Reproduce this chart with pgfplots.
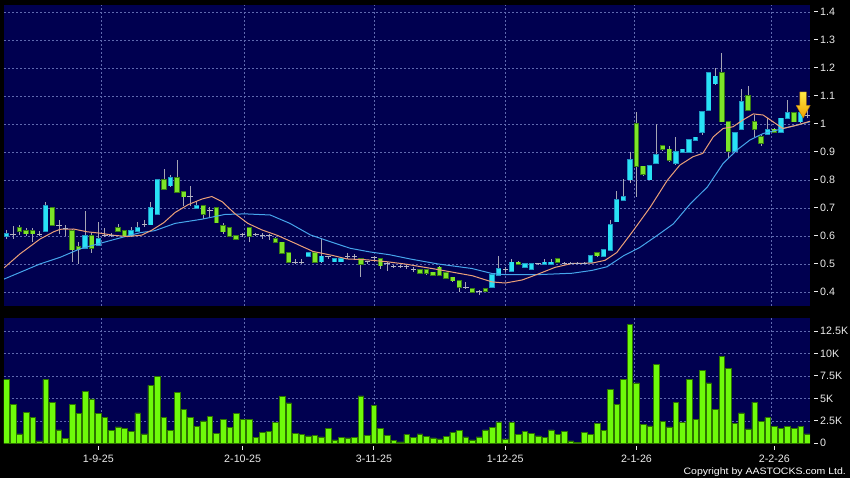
\documentclass[border=0pt]{standalone}
\usepackage{fontspec}
\setmainfont{Liberation Sans}
\usepackage{graphicx}
\usepackage{pgfplots}
\usepackage{pgfplotstable}
\pgfplotsset{compat=1.18}

\definecolor{navybg}{RGB}{0,0,80}
\definecolor{gridc}{RGB}{95,105,175}
\definecolor{upc}{RGB}{40,225,245}
\definecolor{upb}{RGB}{30,150,195}
\definecolor{dnc}{RGB}{125,228,40}
\definecolor{dnb}{RGB}{55,125,20}
\definecolor{wickc}{RGB}{165,165,180}
\definecolor{dojic}{RGB}{180,180,195}
\definecolor{volc}{RGB}{110,250,10}
\definecolor{volb}{RGB}{45,115,0}
\definecolor{maor}{RGB}{235,160,120}
\definecolor{mabl}{RGB}{70,165,235}
\definecolor{labc}{RGB}{235,235,235}
\definecolor{arrowtop}{RGB}{255,235,70}
\definecolor{arrowbot}{RGB}{240,160,0}
\definecolor{arrowedge}{RGB}{190,120,0}

\newcommand{\yt}[1]{\rule[3.4pt]{3.5pt}{0.9pt}\hspace{2.5pt}#1}
\newcommand{\xt}[1]{\rule{0.9pt}{3.5pt}\\[0.2pt]#1}

\pgfdeclareplotmark{nothing}{}
\pgfdeclareplotmark{dnarrow}{%
  \shadedraw[top color=arrowtop, bottom color=arrowbot, draw=arrowedge, line width=0.4pt]
    (-3.3pt,13pt) -- (3.3pt,13pt) -- (3.3pt,-0.5pt) -- (7pt,-0.5pt) -- (0pt,-13pt)
    -- (-7pt,-0.5pt) -- (-3.3pt,-0.5pt) -- cycle;
}

% up candles (cyan): index open high low close
\pgfplotstableread{
i o h l c
0 0.600 0.620 0.590 0.607
6 0.618 0.720 0.613 0.708
12 0.557 0.690 0.553 0.601
14 0.568 0.651 0.565 0.589
19 0.601 0.631 0.598 0.618
20 0.618 0.650 0.613 0.629
22 0.640 0.720 0.640 0.700
23 0.678 0.800 0.675 0.800
25 0.780 0.818 0.775 0.808
29 0.700 0.726 0.695 0.708
46 0.527 0.540 0.525 0.539
48 0.508 0.592 0.504 0.527
50 0.508 0.520 0.506 0.518
51 0.508 0.520 0.506 0.518
74 0.417 0.461 0.415 0.461
75 0.461 0.530 0.460 0.482
77 0.474 0.518 0.474 0.506
79 0.488 0.500 0.486 0.500
80 0.482 0.500 0.480 0.500
82 0.500 0.518 0.498 0.506
83 0.500 0.518 0.498 0.506
89 0.506 0.530 0.505 0.530
91 0.527 0.550 0.525 0.550
92 0.550 0.658 0.550 0.641
93 0.651 0.760 0.651 0.729
94 0.729 0.805 0.729 0.741
95 0.801 0.900 0.790 0.871
98 0.801 0.851 0.800 0.851
99 0.859 1.000 0.859 0.891
102 0.859 0.952 0.853 0.900
103 0.900 0.910 0.898 0.909
104 0.900 0.943 0.898 0.943
105 0.943 0.955 0.940 0.952
106 0.972 1.044 0.960 1.044
107 1.050 1.182 1.045 1.182
108 1.144 1.200 1.140 1.170
111 0.904 0.969 0.900 0.969
112 0.981 1.125 0.981 1.080
116 0.964 1.020 0.964 0.978
118 0.972 1.020 0.972 1.020
119 1.020 1.084 1.020 1.041
121 1.008 1.041 1.005 1.041
}\tblup

% down candles (green)
\pgfplotstableread{
i o h l c
2 0.629 0.638 0.605 0.618
3 0.618 0.628 0.601 0.608
4 0.618 0.629 0.577 0.608
7 0.700 0.700 0.635 0.639
10 0.618 0.625 0.506 0.551
11 0.560 0.577 0.500 0.551
13 0.601 0.611 0.540 0.557
17 0.629 0.644 0.613 0.618
18 0.618 0.620 0.598 0.601
24 0.800 0.840 0.768 0.768
26 0.808 0.870 0.756 0.756
27 0.757 0.757 0.708 0.740
30 0.708 0.708 0.660 0.678
32 0.700 0.700 0.648 0.648
33 0.637 0.645 0.607 0.616
34 0.628 0.628 0.598 0.600
35 0.600 0.600 0.586 0.589
37 0.628 0.628 0.577 0.600
41 0.589 0.595 0.575 0.577
42 0.577 0.580 0.535 0.539
43 0.539 0.540 0.504 0.506
47 0.539 0.540 0.504 0.506
54 0.518 0.520 0.452 0.500
57 0.518 0.518 0.482 0.494
63 0.479 0.480 0.465 0.468
64 0.479 0.482 0.462 0.468
65 0.470 0.472 0.458 0.461
66 0.488 0.494 0.460 0.461
67 0.468 0.470 0.447 0.450
68 0.452 0.455 0.437 0.440
69 0.440 0.440 0.400 0.417
71 0.410 0.410 0.397 0.399
73 0.410 0.413 0.400 0.402
78 0.506 0.510 0.500 0.500
84 0.518 0.520 0.505 0.506
90 0.539 0.541 0.525 0.530
96 1.000 1.044 0.739 0.849
97 0.849 0.849 0.816 0.820
100 0.921 0.925 0.905 0.909
101 0.909 0.921 0.865 0.871
109 1.182 1.252 1.008 1.008
110 1.008 1.008 0.880 0.904
113 1.100 1.134 1.050 1.050
114 1.008 1.032 0.955 0.981
115 0.955 0.961 0.921 0.931
117 0.981 0.985 0.968 0.972
120 1.041 1.041 1.008 1.008
}\tbldn

% doji candles: index value high low
\pgfplotstableread{
i v h l
1 0.607 0.635 0.589
5 0.607 0.618 0.601
8 0.639 0.658 0.607
9 0.625 0.639 0.601
15 0.603 0.629 0.595
16 0.603 0.612 0.595
21 0.640 0.656 0.631
28 0.740 0.780 0.708
31 0.690 0.705 0.665
36 0.605 0.612 0.598
38 0.605 0.610 0.600
39 0.601 0.612 0.590
40 0.601 0.608 0.585
44 0.506 0.518 0.500
45 0.506 0.518 0.500
49 0.527 0.530 0.518
52 0.527 0.540 0.518
53 0.527 0.535 0.518
55 0.508 0.512 0.500
56 0.524 0.530 0.506
58 0.500 0.506 0.476
59 0.490 0.495 0.485
60 0.490 0.495 0.485
61 0.490 0.497 0.482
62 0.482 0.488 0.470
70 0.417 0.435 0.410
72 0.400 0.406 0.390
76 0.482 0.488 0.470
81 0.500 0.503 0.497
85 0.503 0.506 0.500
86 0.503 0.506 0.500
87 0.503 0.506 0.500
88 0.503 0.506 0.500
122 1.030 1.050 1.020
}\tbldoji

% moving averages
\pgfplotstableread{
i v
-0.37 0.486
2.07 0.536
5.12 0.589
7.2 0.615
8.2 0.624
10.2 0.625
12.3 0.615
14.3 0.610
16.2 0.603
18.4 0.598
20.6 0.603
22.1 0.620
24.0 0.648
25.7 0.684
27.7 0.712
29.8 0.732
31.3 0.741
32.9 0.722
34.8 0.680
36.8 0.645
38.9 0.622
41.2 0.603
43.7 0.577
46.7 0.545
49.8 0.530
51.9 0.518
54.9 0.515
58.0 0.508
60.7 0.500
65.8 0.480
71.0 0.458
74.0 0.436
76.0 0.432
78.6 0.443
81.0 0.464
83.6 0.488
86.2 0.502
89.2 0.503
91.2 0.513
93.0 0.541
95.5 0.619
98.1 0.703
100.7 0.799
102.6 0.853
104.6 0.883
106.1 0.895
107.7 0.954
109.2 0.984
110.7 0.990
112.2 1.014
113.8 1.036
115.3 1.032
116.8 1.008
118.3 0.984
120.5 0.996
122.44 1.010
}\tblmaa

\pgfplotstableread{
i v
-0.37 0.446
2.07 0.470
5.1 0.500
8.2 0.524
11.2 0.554
14.3 0.574
17.3 0.593
20.4 0.612
22.6 0.619
25.7 0.645
29.8 0.660
33.3 0.677
36.4 0.679
40.2 0.675
43.2 0.645
46.3 0.604
49.3 0.580
52.4 0.556
55.4 0.543
58.4 0.533
61.5 0.518
65.8 0.500
70.9 0.484
74.0 0.466
76.0 0.462
81.0 0.462
86.2 0.467
89.2 0.477
91.5 0.490
94.0 0.529
96.5 0.559
99.1 0.601
101.6 0.643
104.2 0.715
106.8 0.775
109.2 0.859
111.3 0.907
113.3 0.943
115.3 0.966
117.4 0.978
119.4 0.990
122.44 1.008
}\tblmab

% volume in thousands
\pgfplotstableread{
i v
0 7.1
1 4.3
2 1.05
3 3.45
4 2.9
5 0.26
6 7.1
7 4.6
8 1.5
9 0.56
10 4.3
11 3.3
12 5.8
13 4.95
14 3.34
15 2.9
16 1.4
17 1.84
18 1.7
19 1.3
20 3.4
21 1.05
22 6.45
23 7.5
24 2.85
25 1.4
26 5.7
27 3.75
28 2.9
29 1.9
30 2.5
31 3.0
32 1.1
33 2.7
34 1.8
35 3.3
36 2.7
37 2.7
38 0.7
39 1.24
40 1.3
41 2.3
42 5.25
43 4.5
44 1.1
45 0.98
46 0.83
47 0.86
48 0.71
49 1.65
50 0.38
51 0.64
52 0.6
53 0.68
54 5.3
55 0.86
56 4.2
57 1.65
58 0.9
59 0.3
60 0.15
61 1.0
62 0.64
63 1.05
64 0.79
65 0.6
66 0.49
67 0.75
68 1.24
69 1.46
70 0.71
71 0.38
72 0.71
73 1.5
74 1.8
75 2.4
76 0.5
77 2.3
78 1.0
79 1.35
80 1.1
81 0.83
82 0.64
83 1.5
84 1.0
85 1.35
86 0.26
87 0.1
88 1.2
89 0.98
90 2.2
91 1.4
92 6.0
93 4.3
94 7.1
95 13.3
96 6.75
97 2.1
98 1.95
99 8.8
100 2.44
101 1.84
102 4.6
103 2.3
104 7.1
105 2.7
106 8.1
107 6.75
108 3.75
109 9.7
110 8.4
111 2.25
112 3.4
113 1.6
114 4.6
115 2.44
116 2.85
117 1.9
118 1.7
119 1.9
120 1.7
121 1.9
122 1.05
}\tblvol

\pgfplotsset{
  chartbase/.style={
    scale only axis, width=806pt,
    xmin=-0.366, xmax=122.44,
    axis background/.style={fill=navybg},
    axis line style={draw=none},
    major tick length=0pt,
    grid style={gridc, dash pattern=on 2pt off 2pt, line width=0.6pt},
    tick label style={font=\fontsize{10.7}{12.2}\selectfont, text=labc},
    yticklabel pos=right,
    yticklabel style={anchor=west, inner sep=0pt, xshift=4pt},
  },
  wick/.style={forget plot, only marks, mark=nothing,
    error bars/.cd, y dir=both, y explicit, error mark=none,
    error bar style={line width=0.8pt, color=wickc}},
  body/.style 2 args={forget plot, only marks, mark=nothing,
    error bars/.cd, y dir=both, y explicit, error mark=none,
    error bar style={line width=#1, color=#2}},
}

\begin{document}
\begin{tikzpicture}[x=1pt,y=1pt]
\fill[black] (0,0) rectangle (850,478);

% ---------- price panel ----------
\begin{axis}[chartbase,
  at={(4pt,172pt)}, anchor=south west, height=301pt,
  ymin=0.35, ymax=1.425,
  xtick={14.5,36.3,56.05,75.97,95.67,116.6}, xticklabel=\empty,
  ytick={0.4,0.5,0.6,0.7,0.8,0.9,1,1.1,1.2,1.3,1.4},
  yticklabels={\yt{0.4},\yt{0.5},\yt{0.6},\yt{0.7},\yt{0.8},\yt{0.9},\yt{1},\yt{1.1},\yt{1.2},\yt{1.3},\yt{1.4}},
  xmajorgrids, ymajorgrids,
]
% wicks
\addplot[wick] table[x=i, y expr={(\thisrow{h}+\thisrow{l})/2}, y error expr={(\thisrow{h}-\thisrow{l})/2}] {\tblup};
\addplot[wick] table[x=i, y expr={(\thisrow{h}+\thisrow{l})/2}, y error expr={(\thisrow{h}-\thisrow{l})/2}] {\tbldn};
\addplot[wick] table[x=i, y expr={(\thisrow{h}+\thisrow{l})/2}, y error expr={(\thisrow{h}-\thisrow{l})/2}] {\tbldoji};
% up bodies
\addplot[body={5.4pt}{upb}] table[x=i, y expr={(\thisrow{o}+\thisrow{c})/2}, y error expr={abs(\thisrow{c}-\thisrow{o})/2+0.0025}] {\tblup};
\addplot[body={3.8pt}{upc}] table[x=i, y expr={(\thisrow{o}+\thisrow{c})/2}, y error expr={abs(\thisrow{c}-\thisrow{o})/2}] {\tblup};
% down bodies
\addplot[body={5.4pt}{dnb}] table[x=i, y expr={(\thisrow{o}+\thisrow{c})/2}, y error expr={abs(\thisrow{c}-\thisrow{o})/2+0.0025}] {\tbldn};
\addplot[body={3.8pt}{dnc}] table[x=i, y expr={(\thisrow{o}+\thisrow{c})/2}, y error expr={abs(\thisrow{c}-\thisrow{o})/2}] {\tbldn};
% doji
\addplot[forget plot, only marks, mark=-, mark size=2.7pt, mark options={line width=1pt, draw=dojic}] table[x=i, y=v] {\tbldoji};
% moving averages
\addplot[mabl, line width=1pt, mark=none] table[x=i, y=v] {\tblmab};
\addplot[maor, line width=1pt, mark=none] table[x=i, y=v] {\tblmaa};
% marker arrow
\addplot[only marks, mark=dnarrow] coordinates {(121.4,1.068)};
\end{axis}

% ---------- volume panel ----------
\begin{axis}[chartbase,
  at={(4pt,34pt)}, anchor=south west, height=126pt,
  ymin=-0.08, ymax=13.98,
  xtick={14,36,56,76,96,117},
  xticklabels={{\xt{1-9-25}},{\xt{2-10-25}},{\xt{3-11-25}},{\xt{1-12-25}},{\xt{2-1-26}},{\xt{2-2-26}}},
  xticklabel style={anchor=north, align=center, inner sep=0pt, yshift=-2pt},
  extra x ticks={14.5,36.3,56.05,75.97,95.67,116.6},
  extra x tick labels={},
  extra x tick style={grid=major},
  ytick={0,2.5,5,7.5,10,12.5},
  yticklabels={\yt{0},\yt{2.5K},\yt{5K},\yt{7.5K},\yt{10K},\yt{12.5K}},
  ymajorgrids,
]
\addplot[ybar, bar width=5.6pt, fill=volc, draw=volb, line width=0.5pt] table[x=i, y=v] {\tblvol};
\end{axis}

\node[anchor=base east, inner sep=0pt, text=white, font=\fontsize{9.3}{10}\selectfont]
  at (846,3.3) {\scalebox{1.13}[1]{Copyright by AASTOCKS.com Ltd.}};

\pgfresetboundingbox
\useasboundingbox (0,0) rectangle (850,478);
\end{tikzpicture}
\end{document}
